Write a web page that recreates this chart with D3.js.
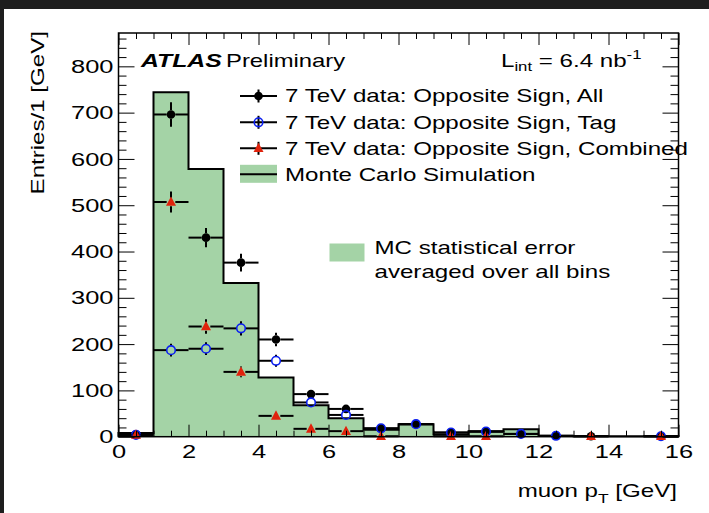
<!DOCTYPE html>
<html><head><meta charset="utf-8">
<script src="https://cdn.jsdelivr.net/npm/d3@7"></script>
<style>
body{margin:0;background:#fff;}
svg{display:block;}
text{font-family:"Liberation Sans",Arial,Helvetica,sans-serif;fill:#000;}
</style>
</head><body>
<svg id="c" width="709" height="513"></svg>
<script>
// ---------------- data ----------------
const binEdges = [0,1,2,3,4,5,6,7,8,9,10,11,12,13,14,15,16];
const binCenters = [0.5,1.5,2.5,3.5,4.5,5.5,6.5,7.5,8.5,9.5,10.5,11.5,12.5,13.5,14.5,15.5];
const mcValues   = [8,744,578,332,128,68,40,15,27,5,12,16,1.5,1,1,1];
const osAll      = [5,696,430,376,210,92,60,18,27,9,11,6,2,1,null,1];
const osTag      = [4,187,190,234,164,74,47,18,27,9,11,6,2,null,null,1];
const osCombined = [4,507,238,140,45,17,12,1,null,1,1,null,null,1,null,1];
const xTickLabels = ["0","2","4","6","8","10","12","14","16"];
const yTickLabels = ["0","100","200","300","400","500","600","700","800"];
const legendLabels = ["7 TeV data: Opposite Sign, All","7 TeV data: Opposite Sign, Tag",
  "7 TeV data: Opposite Sign, Combined","Monte Carlo Simulation"];
const errLegendLines = ["MC statistical error","averaged over all bins"];

// ---------------- style ----------------
const SX = 1.34;             // horizontal text stretch seen in reference
const GREEN = "#a4d3a6", RED = "#e0220c", BLUE = "#0a1ef0";
const svg = d3.select("#c");
svg.append("rect").attr("width",709).attr("height",513).attr("fill","#fff");
svg.append("rect").attr("width",709).attr("height",9).attr("fill","#1e1e1e");
svg.append("rect").attr("width",4).attr("height",513).attr("fill","#1e1e1e");

const L=118.5, R=678.5, T=33, B=436.7;
const x = d3.scaleLinear().domain([0,16]).range([L,R]);
const y = d3.scaleLinear().domain([0,872]).range([B,T]);

function txt(g, tx, ty, size, anchor, rot){
  const t = g.append("text")
    .attr("transform",`translate(${tx},${ty})${rot?` rotate(${rot})`:""} scale(${SX},1)`)
    .attr("font-size",size).attr("text-anchor",anchor||"start");
  return t;
}

// ---------------- histogram ----------------
const pts = [];
binCenters.forEach((c,i)=>{ pts.push({x:binEdges[i],y:mcValues[i]}); pts.push({x:binEdges[i+1],y:mcValues[i]}); });
svg.append("path").datum(pts)
  .attr("d",d3.area().x(d=>x(d.x)).y0(y(0)).y1(d=>y(d.y)))
  .attr("fill",GREEN);
const outline = [{x:0,y:0},...pts,{x:16,y:0}];
svg.append("path").datum(outline)
  .attr("d",d3.line().x(d=>x(d.x)).y(d=>y(d.y)))
  .attr("fill","none").attr("stroke","#000").attr("stroke-width",2);

// ---------------- data points ----------------
function drawSeries(vals, r, marker){
  const g = svg.append("g");
  binCenters.forEach((c,i)=>{
    const v = vals[i]; if(v==null) return;
    const cx=x(c), cy=y(v), e=Math.sqrt(v);
    const xl=x(binEdges[i]), xr=x(binEdges[i+1]);
    const yt=y(v+e), yb=y(Math.max(0,v-e));
    const segs=[[xl,cy,cx-r,cy],[cx+r,cy,xr,cy]];
    if(cy-yt>r) segs.push([cx,yt,cx,cy-r]);
    if(yb-cy>r) segs.push([cx,cy+r,cx,yb]);
    segs.forEach(s=>g.append("line").attr("x1",s[0]).attr("y1",s[1]).attr("x2",s[2]).attr("y2",s[3])
      .attr("stroke","#000").attr("stroke-width",2));
    marker(g,cx,cy);
  });
}
const mAll = (g,cx,cy)=>g.append("circle").attr("cx",cx).attr("cy",cy).attr("r",4.3).attr("fill","#000");
const mTag = (g,cx,cy)=>g.append("circle").attr("cx",cx).attr("cy",cy).attr("r",4.3).attr("fill","none").attr("stroke",BLUE).attr("stroke-width",1.6);
const mTri = (g,cx,cy)=>g.append("path").attr("d",`M${cx},${cy-5.5}L${cx+5},${cy+3.8}L${cx-5},${cy+3.8}Z`).attr("fill",RED);
drawSeries(osAll,4.3,mAll);
drawSeries(osTag,4.3,mTag);
drawSeries(osCombined,4.3,mTri);

// ---------------- axes ----------------
const xMajor = xTickLabels.map(Number);
const yMajor = yTickLabels.map(Number);
const xMinor = d3.range(0,16.01,0.5).filter(v=>!xMajor.includes(v));
const yMinor = d3.range(0,872,20).filter(v=>!yMajor.includes(v));
function clean(g){ g.select(".domain").remove(); g.selectAll("line").attr("stroke","#000").attr("stroke-width",1); }

svg.append("g").attr("transform",`translate(0,${B})`).call(d3.axisBottom(x).tickValues(xMinor).tickSize(-6).tickFormat("")).call(clean);
svg.append("g").attr("transform",`translate(0,${T})`).call(d3.axisTop(x).tickValues(xMinor).tickSize(-6).tickFormat("")).call(clean);
svg.append("g").attr("transform",`translate(0,${T})`).call(d3.axisTop(x).tickValues(xMajor).tickSize(-12).tickFormat("")).call(clean);
const gxb = svg.append("g").attr("transform",`translate(0,${B})`)
  .call(d3.axisBottom(x).tickValues(xMajor).tickSize(-12).tickPadding(8).tickFormat((d,i)=>xTickLabels[i])).call(clean);
gxb.selectAll("text").attr("font-size",19).attr("font-family",null).attr("fill","#000")
  .attr("transform",`scale(${SX},1)`);

svg.append("g").attr("transform",`translate(${L},0)`).call(d3.axisLeft(y).tickValues(yMinor).tickSize(-8).tickFormat("")).call(clean);
svg.append("g").attr("transform",`translate(${R},0)`).call(d3.axisRight(y).tickValues(yMinor).tickSize(-8).tickFormat("")).call(clean);
svg.append("g").attr("transform",`translate(${R},0)`).call(d3.axisRight(y).tickValues(yMajor).tickSize(-16).tickFormat("")).call(clean);
const gyl = svg.append("g").attr("transform",`translate(${L},0)`)
  .call(d3.axisLeft(y).tickValues(yMajor).tickSize(-16).tickPadding(5).tickFormat((d,i)=>yTickLabels[i])).call(clean);
gyl.selectAll("text").attr("font-size",19).attr("font-family",null).attr("fill","#000")
  .attr("x",null).attr("transform",`translate(-5,0) scale(${SX},1)`);

svg.append("rect").attr("x",L).attr("y",T).attr("width",R-L).attr("height",B-T)
  .attr("fill","none").attr("stroke","#000").attr("stroke-width",1.5);

// axis titles
const tx = txt(svg,677,497,18,"end");
tx.append("tspan").text("muon p");
tx.append("tspan").attr("font-size",13).attr("dy",6).text("T");
tx.append("tspan").attr("dy",-6).text(" [GeV]");
txt(svg,44,31,18,"end",-90).text("Entries/1 [GeV]");

// ---------------- labels ----------------
txt(svg,141,67,18.5,"start").attr("font-weight","bold").attr("font-style","italic").text("ATLAS");
txt(svg,226,67,17.8,"start").text("Preliminary");
const lum = txt(svg,501,67,18,"start");
lum.append("tspan").text("L");
lum.append("tspan").attr("font-size",12.5).attr("dy",4).text("int");
lum.append("tspan").attr("dy",-4).text(" = 6.4 nb");
lum.append("tspan").attr("font-size",12.5).attr("dy",-8).text("-1");

// ---------------- legend ----------------
const rows=[96,122.3,148.3,174.3];
const lg = svg.append("g");
const markers=[mAll,mTag,mTri];
rows.forEach((ry,i)=>{
  if(i<3){
    lg.append("line").attr("x1",240).attr("x2",277).attr("y1",ry).attr("y2",ry).attr("stroke","#000").attr("stroke-width",2);
    lg.append("line").attr("x1",258.5).attr("x2",258.5).attr("y1",ry-6.5).attr("y2",ry+6.5).attr("stroke","#000").attr("stroke-width",2);
    markers[i](lg,258.5,ry);
  } else {
    lg.append("rect").attr("x",240).attr("y",ry-9.5).attr("width",37).attr("height",18).attr("fill",GREEN);
    lg.append("line").attr("x1",240).attr("x2",277).attr("y1",ry).attr("y2",ry).attr("stroke","#000").attr("stroke-width",2);
  }
  txt(lg,285,ry+6.4,18,"start").text(legendLabels[i]);
});
lg.append("rect").attr("x",329.5).attr("y",243.5).attr("width",35).attr("height",18).attr("fill",GREEN);
txt(lg,374.5,253.5,18,"start").text(errLegendLines[0]);
txt(lg,374.5,278,18,"start").text(errLegendLines[1]);
</script>
</body></html>
